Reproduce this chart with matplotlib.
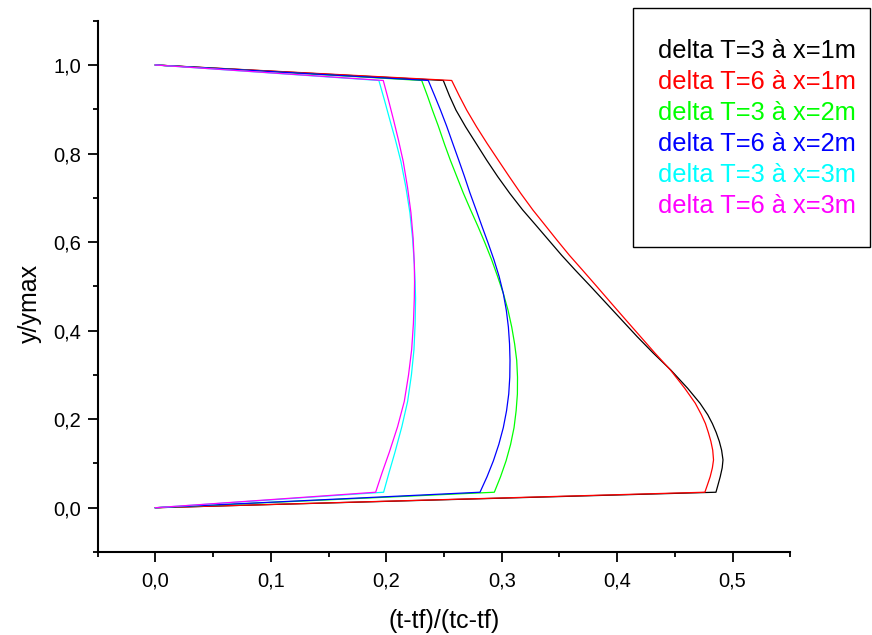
import matplotlib
matplotlib.use("Agg")
import matplotlib.pyplot as plt
from matplotlib.patches import Rectangle
from matplotlib.ticker import MultipleLocator, FuncFormatter

plt.rcParams['font.family'] = ['Liberation Sans', 'DejaVu Sans']

# Profiles: normalised time (t-tf)/(tc-tf) against normalised height y/ymax
labels = ["delta T=3 à x=1m", "delta T=6 à x=1m", "delta T=3 à x=2m",
          "delta T=6 à x=2m", "delta T=3 à x=3m", "delta T=6 à x=3m"]
colors = ["#000000", "#ff0000", "#00ff00", "#0000ff", "#00ffff", "#ff00ff"]

y_x1 = [0, 0.035, 0.05, 0.07, 0.09, 0.108, 0.13, 0.15, 0.17, 0.19, 0.21, 0.236,
        0.27, 0.311, 0.35, 0.386, 0.424, 0.462, 0.50, 0.537, 0.57, 0.605, 0.64,
        0.6725, 0.71, 0.748, 0.785, 0.823, 0.86, 0.898, 0.93, 0.965, 1.0]
x_dt3_x1 = [0, 0.4856, 0.4872, 0.4893, 0.4910, 0.4917, 0.4905, 0.4885, 0.4858,
            0.4825, 0.4785, 0.4718, 0.4610, 0.4465, 0.4310, 0.4175, 0.4040,
            0.3905, 0.3770, 0.3636, 0.3520, 0.3405, 0.3290, 0.3182, 0.3070,
            0.2965, 0.2870, 0.2778, 0.2688, 0.2604, 0.2548, 0.2494, 0]
x_dt6_x1 = [0, 0.4760, 0.4780, 0.4806, 0.4825, 0.4835, 0.4828, 0.4812, 0.4790,
            0.4765, 0.4730, 0.4677, 0.4585, 0.4462, 0.4325, 0.4204, 0.4076,
            0.3949, 0.3823, 0.3699, 0.3587, 0.3477, 0.3370, 0.3270, 0.3165,
            0.3065, 0.2970, 0.2873, 0.2783, 0.2697, 0.2633, 0.2567, 0]

y_x2 = [0, 0.035, 0.07, 0.106, 0.143, 0.181, 0.219, 0.257, 0.295, 0.333, 0.37,
        0.408, 0.446, 0.484, 0.522, 0.56, 0.598, 0.635, 0.673, 0.711, 0.75,
        0.785, 0.82, 0.862, 0.898, 0.93, 0.965, 1.0]
x_dt3_x2 = [0, 0.2936, 0.2990, 0.3038, 0.3077, 0.3107, 0.3125, 0.3136, 0.3137,
            0.3130, 0.3112, 0.3087, 0.3055, 0.3014, 0.2965, 0.2913, 0.2855,
            0.2795, 0.2730, 0.2667, 0.2608, 0.2555, 0.2506, 0.2451, 0.2400,
            0.2357, 0.2307, 0]
x_dt6_x2 = [0, 0.2812, 0.2873, 0.2928, 0.2975, 0.3014, 0.3042, 0.3061, 0.3070,
            0.3072, 0.3068, 0.3058, 0.3040, 0.3014, 0.2978, 0.2933, 0.2882,
            0.2830, 0.2778, 0.2725, 0.2675, 0.2628, 0.2580, 0.2523, 0.2470,
            0.2420, 0.2364, 0]

y_x3 = [0, 0.035, 0.08, 0.125, 0.183, 0.24, 0.30, 0.357, 0.415, 0.473, 0.51,
        0.55, 0.608, 0.666, 0.724, 0.782, 0.83, 0.875, 0.92, 0.965, 1.0]
x_dt3_x3 = [0, 0.1977, 0.2025, 0.2075, 0.2135, 0.2185, 0.2218, 0.2240, 0.2250,
            0.2254, 0.2250, 0.2243, 0.2228, 0.2205, 0.2170, 0.2127, 0.2080,
            0.2032, 0.1985, 0.1936, 0]
x_dt6_x3 = [0, 0.1908, 0.1965, 0.2026, 0.2098, 0.2156, 0.2193, 0.2220, 0.2235,
            0.2243, 0.2245, 0.2243, 0.2233, 0.2214, 0.2184, 0.2147, 0.2106,
            0.2064, 0.2020, 0.1974, 0]

series = [(x_dt3_x1, y_x1), (x_dt6_x1, y_x1), (x_dt3_x2, y_x2),
          (x_dt6_x2, y_x2), (x_dt3_x3, y_x3), (x_dt6_x3, y_x3)]

fig = plt.figure(figsize=(8.72, 6.35), dpi=100)
ax = fig.add_axes([0.1120, 0.1307, 0.7943, 0.8367])

for (xs, ys), c, lab in zip(series, colors, labels):
    ax.plot(xs, ys, color=c, lw=0.9, label=lab)

ax.set_xlim(-0.05, 0.55)
ax.set_ylim(-0.1, 1.1)

for side in ("top", "right"):
    ax.spines[side].set_visible(False)
for side in ("left", "bottom"):
    ax.spines[side].set_linewidth(1.5)

comma = FuncFormatter(lambda v, p: f"{v:.1f}".replace(".", ","))
ax.xaxis.set_major_locator(MultipleLocator(0.1))
ax.xaxis.set_minor_locator(MultipleLocator(0.05))
ax.yaxis.set_major_locator(MultipleLocator(0.2))
ax.yaxis.set_minor_locator(MultipleLocator(0.1))
ax.xaxis.set_major_formatter(comma)
ax.yaxis.set_major_formatter(comma)

ax.tick_params(which="major", direction="out", length=7, width=1.3, labelsize=14.5)
ax.tick_params(which="minor", direction="out", length=3.6, width=1.3)
ax.tick_params(axis="x", which="major", pad=7)
ax.tick_params(axis="y", which="major", pad=5)

ax.set_xlabel("(t-tf)/(tc-tf)", fontsize=18)
ax.set_ylabel("y/ymax", fontsize=18)
ax.xaxis.label.set_va("center")
ax.yaxis.label.set_va("center")
ax.xaxis.set_label_coords(0.5, -0.13)
ax.yaxis.set_label_coords(-0.098, 0.468)

# Framed legend of coloured labels in the upper right corner
fig.patches.append(Rectangle((0.7263, 0.6115), 0.2714, 0.3754,
                             transform=fig.transFigure, fill=False,
                             edgecolor="black", lw=1.0))
baselines_px = [58.3, 89.3, 120.0, 151.0, 181.7, 212.7]
for lab, c, b in zip(labels, colors, baselines_px):
    fig.text(0.7550, 1 - b / 635, lab, color=c, fontsize=18.3,
             ha="left", va="baseline")

fig.savefig("out.png", dpi=100)
